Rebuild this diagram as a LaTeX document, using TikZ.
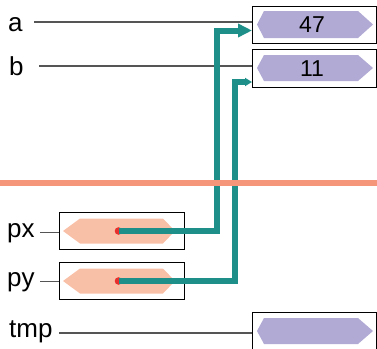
\documentclass[tikz,border=0pt]{standalone}
\usepackage{fontspec}
\setmainfont{Liberation Sans}
\usetikzlibrary{arrows.meta}
\definecolor{hexpurple}{HTML}{B0AAD4}
\definecolor{hexorange}{HTML}{F9C0A8}
\definecolor{sepline}{HTML}{F5957A}
\definecolor{ptrteal}{HTML}{1E9089}
\definecolor{dotred}{HTML}{E8312F}
\definecolor{refgray}{HTML}{555555}
\tikzset{
  varbox/.style={draw=black, line width=1pt},
  reflabel/.style={anchor=base west, inner sep=0pt, font=\fontsize{26}{26}\selectfont},
  valtext/.style={inner sep=0pt, font=\fontsize{23}{23}\selectfont},
  refline/.style={draw=refgray, line width=1.3pt},
  ptr/.style={draw=ptrteal, line width=6pt},
}
\begin{document}
\begin{tikzpicture}[x=1pt,y=-1pt]
\useasboundingbox (0,0) rectangle (377,348);

% boxes
\draw[varbox] (252,6) rectangle (376,43);
\draw[varbox] (252,49) rectangle (376,87);
\draw[varbox] (252,312) rectangle (376,360);
\draw[varbox] (59,212) rectangle (184,249);
\draw[varbox] (59,262) rectangle (184,299);

% hexagons (values)
\fill[hexpurple] (257,24.5) -- (264,11) -- (358,11) -- (373,24.5) -- (358,38) -- (264,38) -- cycle;
\fill[hexpurple] (257,68) -- (264,55) -- (358,55) -- (373,68) -- (358,81) -- (264,81) -- cycle;
\fill[hexpurple] (257,331) -- (264,318) -- (358,318) -- (373,331) -- (358,344) -- (264,344) -- cycle;
\fill[hexorange] (63,231) -- (80,218.5) -- (163,218.5) -- (175,231) -- (163,243.5) -- (80,243.5) -- cycle;
\fill[hexorange] (63,281) -- (80,268.5) -- (163,268.5) -- (175,281) -- (163,293.5) -- (80,293.5) -- cycle;

\node[valtext] (va) at (312,25) {47};
\node[valtext] (vb) at (312,68.5) {11};

% labels
\node[reflabel] (la) at (8,31) {a};
\node[reflabel] (lb) at (9,75) {b};
\node[reflabel] (lpx) at (7,237) {px};
\node[reflabel] (lpy) at (7,286) {py};
\node[reflabel] (ltmp) at (9,337) {tmp};

\coordinate (ea) at (252,22);
\coordinate (eb) at (252,66);
\coordinate (epx) at (59,232.5);
\coordinate (epy) at (59,281.5);
\coordinate (etmp) at (252,333);
\draw[refline] (34,22) -- (ea);
\draw[refline] (39,66) -- (eb);
\draw[refline] (40,232.5) -- (epx);
\draw[refline] (40,281.5) -- (epy);
\draw[refline] (59,333) -- (etmp);

% pointer dots
\coordinate (dx) at (118.5,231);
\coordinate (dy) at (118.5,281);
\fill[dotred] (dx) circle (3.8);
\fill[dotred] (dy) circle (3.8);

% pointers
\coordinate (ta) at (252,30.5);
\coordinate (tb) at (252,82);
\draw[ptr, -{Triangle[length=14pt,width=13pt]}] (dx) -| (217,30.5) -- (ta);
\draw[ptr, -{Triangle[length=7pt,width=8pt]}] (dy) -| (234.5,82) -- (tb);

% separator drawn over pointers
\draw[sepline, line width=6pt] (0,182.5) -- (377,182.5);
\end{tikzpicture}
\end{document}
